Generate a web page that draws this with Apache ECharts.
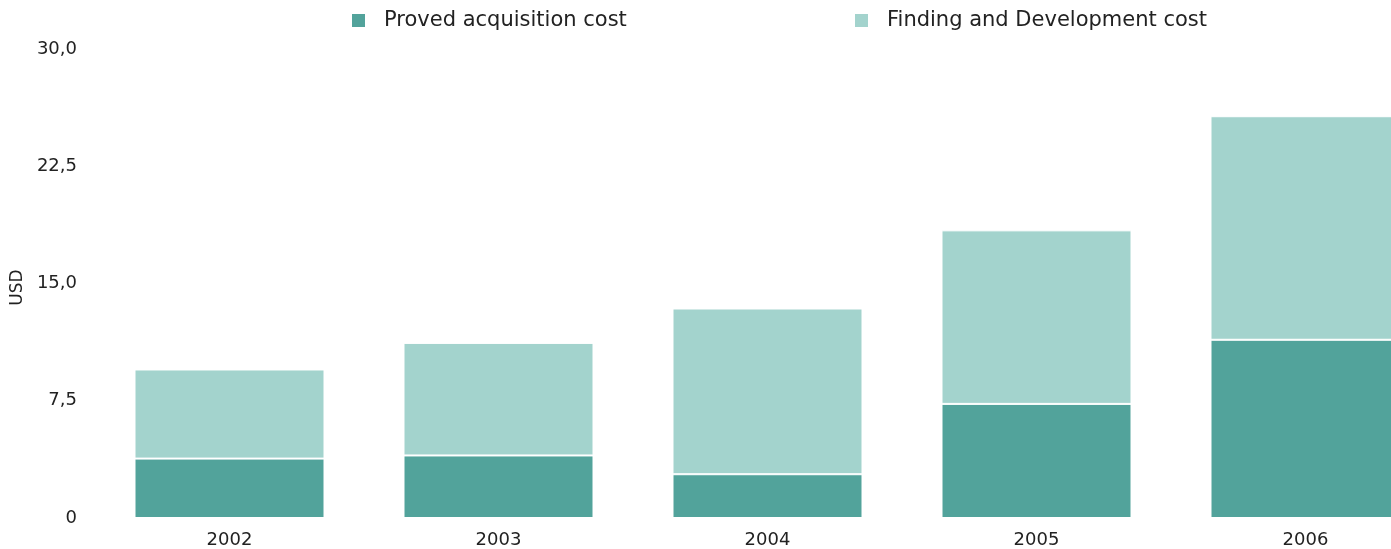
<!DOCTYPE html>
<html>
<head>
<meta charset="utf-8">
<script src="https://cdn.jsdelivr.net/npm/echarts@6/dist/echarts.min.js"></script>
<style>
  html, body { margin: 0; padding: 0; background: #fff; overflow: hidden; }
  #chart { width: 1440px; height: 549px; }
</style>
</head>
<body>
<div id="chart"></div>
<script>
const years = ['2002', '2003', '2004', '2005', '2006'];
const acquisitionCost = [3.8, 4.0, 2.8, 7.3, 11.4];
const findingDevCost = [5.7, 7.2, 10.6, 11.1, 14.3];
const yTicks = [0, 7.5, 15, 22.5, 30];

const darkTeal = '#52a39b';
const lightTeal = '#a3d3cd';
const textColor = '#222';
const font = '"DejaVu Sans", "Open Sans", sans-serif';

const chart = echarts.init(document.getElementById('chart'));

// the original chart is wider than the window, so the last bar gets cut off
const legendBase = {
  top: 10,
  padding: 0,
  icon: 'rect',
  itemWidth: 13,
  itemHeight: 13,
  itemStyle: { borderWidth: 0 },
  textStyle: { color: textColor, fontSize: 21, fontFamily: font, padding: [0, 0, 0, 14] }
};

chart.setOption({
  animation: false,
  backgroundColor: '#fff',
  legend: [
    Object.assign({}, legendBase, { left: 352, data: ['Proved acquisition cost'] }),
    Object.assign({}, legendBase, { left: 855, data: ['Finding and Development cost'] })
  ],
  grid: { left: 95, right: 0, top: 49, bottom: 30, containLabel: false },
  xAxis: {
    type: 'category',
    data: years,
    axisLine: { show: false },
    axisTick: { show: false },
    axisLabel: { color: textColor, fontSize: 18, fontFamily: font, margin: 13 }
  },
  yAxis: {
    type: 'value',
    min: yTicks[0],
    max: yTicks[yTicks.length - 1],
    interval: 7.5,
    name: 'USD',
    nameLocation: 'middle',
    nameGap: 68,
    nameTextStyle: { color: textColor, fontSize: 17, fontFamily: font, padding: [0, 8, 0, 0] },
    axisLine: { show: false },
    axisTick: { show: false },
    splitLine: { show: false },
    axisLabel: {
      color: textColor,
      fontSize: 18,
      fontFamily: font,
      margin: 18,
      padding: [10, 0, 0, 0],
      formatter: v => v === 0 ? '0' : v.toFixed(1).replace('.', ',')
    }
  },
  series: [
    {
      name: 'Proved acquisition cost',
      type: 'bar',
      stack: 'cost',
      barWidth: 190,
      data: acquisitionCost,
      itemStyle: { color: darkTeal, borderColor: '#fff', borderWidth: 1 }
    },
    {
      name: 'Finding and Development cost',
      type: 'bar',
      stack: 'cost',
      barWidth: 190,
      data: findingDevCost,
      itemStyle: { color: lightTeal, borderColor: '#fff', borderWidth: 1 }
    }
  ]
});
</script>
</body>
</html>
